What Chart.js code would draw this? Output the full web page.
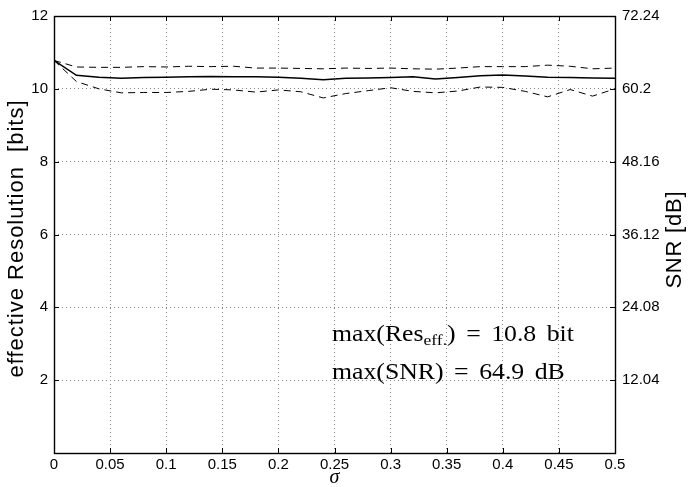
<!DOCTYPE html>
<html>
<head>
<meta charset="utf-8">
<script src="https://cdn.jsdelivr.net/npm/chart.js@4.4.1/dist/chart.umd.min.js"></script>
<style>
  html, body { margin: 0; padding: 0; background: #fff; }
</style>
</head>
<body>
<canvas id="chart" width="688" height="487"></canvas>
<script>
// sigma sweep, effective resolution in bits (mean and the two spread curves)
var sigma = [0, 0.02, 0.04, 0.06, 0.08, 0.10, 0.12, 0.14, 0.16, 0.18, 0.20, 0.22, 0.24,
             0.26, 0.28, 0.30, 0.32, 0.34, 0.36, 0.38, 0.40, 0.42, 0.44, 0.46, 0.48, 0.50];
var resMean  = [10.78, 10.37, 10.32, 10.29, 10.31, 10.32, 10.33, 10.34, 10.33, 10.33, 10.32, 10.29, 10.25,
                10.29, 10.30, 10.31, 10.33, 10.27, 10.31, 10.36, 10.38, 10.35, 10.32, 10.31, 10.30, 10.29];
var resUpper = [10.78, 10.60, 10.59, 10.59, 10.61, 10.60, 10.62, 10.61, 10.62, 10.57, 10.57, 10.56, 10.55,
                10.57, 10.56, 10.57, 10.55, 10.54, 10.57, 10.61, 10.61, 10.61, 10.65, 10.62, 10.55, 10.57];
var resLower = [10.78, 10.20, 10.00, 9.89, 9.90, 9.90, 9.93, 9.99, 9.97, 9.91, 9.97, 9.92, 9.75,
                9.87, 9.95, 10.03, 9.93, 9.89, 9.94, 10.05, 10.04, 9.93, 9.78, 9.98, 9.80, 10.00];

var xTicks = [0, 0.05, 0.1, 0.15, 0.2, 0.25, 0.3, 0.35, 0.4, 0.45, 0.5];
var leftTicks = [2, 4, 6, 8, 10, 12];
var rightTicks = ['12.04', '24.08', '36.12', '48.16', '60.2', '72.24'];

var maxRes = '10.8';
var maxSnr = '64.9';

function pts(ys) {
  return sigma.map(function(s, i) { return { x: s, y: ys[i] }; });
}

var SANS = '"Liberation Sans", Arial, sans-serif';
var SERIF = '"Liberation Serif", "Times New Roman", serif';

// draw text rotated -90deg, stretched with letter spacing to a given length
function vText(ctx, str, cx, cy, len) {
  ctx.save();
  ctx.translate(cx, cy);
  ctx.rotate(-Math.PI / 2);
  ctx.letterSpacing = '0px';
  var w = ctx.measureText(str).width;
  var ls = Math.max(0, (len - w) / str.length);
  ctx.letterSpacing = ls + 'px';
  ctx.fillText(str, ls / 2, 0);
  ctx.restore();
}

// one line of the note: pieces are [text, sub?], gap inserted where text === ' '
function noteLine(ctx, parts, x0, y, size, gap) {
  var x = x0;
  parts.forEach(function(p) {
    if (p === ' ') { x += gap; return; }
    var sub = p.charAt(0) === '_';
    var t = sub ? p.slice(1) : p;
    ctx.font = (sub ? size * 0.68 : size) + 'px ' + SERIF;
    ctx.fillText(t, x, sub ? y + size * 0.16 : y);
    x += ctx.measureText(t).width;
  });
}

// box, inward ticks, axis titles and the max() note
var decor = {
  id: 'decor',
  afterDraw: function(chart) {
    var ctx = chart.ctx, a = chart.chartArea;
    var sx = chart.scales.x, sy = chart.scales.y;
    ctx.save();
    ctx.strokeStyle = '#000';
    ctx.lineWidth = 1.4;
    ctx.strokeRect(Math.round(a.left) + 0.5, Math.round(a.top) + 0.5,
                   Math.round(a.right - a.left), Math.round(a.bottom - a.top));
    ctx.lineWidth = 1;
    ctx.beginPath();
    xTicks.forEach(function(v) {
      var px = Math.round(sx.getPixelForValue(v)) + 0.5;
      ctx.moveTo(px, a.bottom); ctx.lineTo(px, a.bottom - 5);
      ctx.moveTo(px, a.top); ctx.lineTo(px, a.top + 5);
    });
    leftTicks.forEach(function(v) {
      var py = Math.round(sy.getPixelForValue(v)) + 0.5;
      ctx.moveTo(a.left, py); ctx.lineTo(a.left + 5, py);
      ctx.moveTo(a.right, py); ctx.lineTo(a.right - 5, py);
    });
    ctx.stroke();

    ctx.fillStyle = '#000';
    ctx.textAlign = 'center';
    ctx.textBaseline = 'middle';
    ctx.font = '22px ' + SANS;
    vText(ctx, 'effective Resolution  [bits]', 17, 239, 278);
    vText(ctx, 'SNR [dB]', 675, 240, 98);

    ctx.font = 'italic 20px ' + SERIF;
    ctx.textBaseline = 'alphabetic';
    ctx.fillText('\u03c3', (a.left + a.right) / 2, 483);

    // note, horizontally widened a little to resemble the TeX face
    ctx.textAlign = 'left';
    var kx = 1.12, size = 23, gap = 10.5;
    ctx.save();
    ctx.translate(332, 0);
    ctx.scale(kx, 1);
    noteLine(ctx, ['max(Res', '_eff.', ')', ' ', '=', ' ', maxRes, ' ', 'bit'], 0, 341, size, gap / kx);
    noteLine(ctx, ['max(SNR)', ' ', '=', ' ', maxSnr, ' ', 'dB'], 0, 379, size, gap / kx);
    ctx.restore();
    ctx.restore();
  }
};

function fixedTicks(list) {
  return function(scale) {
    scale.ticks = list.map(function(v) { return { value: parseFloat(v) }; });
  };
}

new Chart(document.getElementById('chart'), {
  type: 'line',
  data: {
    datasets: [
      { data: pts(resUpper), borderColor: '#000', borderWidth: 1, borderDash: [7, 5] },
      { data: pts(resMean), borderColor: '#000', borderWidth: 1.5 },
      { data: pts(resLower), borderColor: '#000', borderWidth: 1, borderDash: [7, 5] }
    ]
  },
  options: {
    responsive: false,
    animation: false,
    devicePixelRatio: 1,
    layout: { padding: { top: 12, left: 0, right: 0, bottom: 0 } },
    elements: { point: { radius: 0 }, line: { tension: 0 } },
    plugins: { legend: { display: false }, tooltip: { enabled: false } },
    scales: {
      x: {
        type: 'linear', min: 0, max: 0.5,
        afterBuildTicks: fixedTicks(xTicks),
        afterFit: function(s) { s.height = 34; },
        ticks: {
          color: '#000', padding: 3, maxRotation: 0,
          font: { family: SANS, size: 15 },
          callback: function(v) { return String(+v.toFixed(2)); }
        },
        grid: { color: '#888', lineWidth: 1, drawTicks: false },
        border: { display: false, dash: [1, 3] }
      },
      y: {
        type: 'linear', position: 'left', min: 0, max: 12,
        afterBuildTicks: fixedTicks(leftTicks),
        afterFit: function(s) { s.width = 54; },
        ticks: {
          color: '#000', padding: 6,
          font: { family: SANS, size: 15 }
        },
        grid: { color: '#888', lineWidth: 1, drawTicks: false },
        border: { display: false, dash: [1, 3] }
      },
      y2: {
        type: 'linear', position: 'right', min: 0, max: 72.24,
        afterBuildTicks: fixedTicks(rightTicks),
        afterFit: function(s) { s.width = 73; },
        ticks: {
          color: '#000', padding: 7,
          font: { family: SANS, size: 15 },
          callback: function(v, i) { return rightTicks[i]; }
        },
        grid: { display: false, drawTicks: false },
        border: { display: false }
      }
    }
  },
  plugins: [decor]
});
</script>
</body>
</html>
